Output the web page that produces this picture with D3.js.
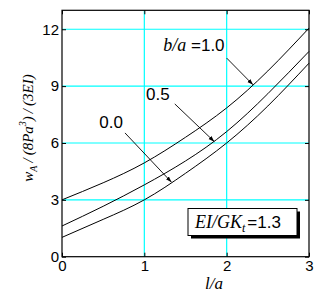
<!DOCTYPE html>
<html><head><meta charset="utf-8">
<script src="https://cdn.jsdelivr.net/npm/d3@7"></script>
<style>html,body{margin:0;padding:0;background:#fff;}</style>
</head><body>
<script>
// ---- data ----
const xs = [0, 0.5, 1, 1.5, 2, 2.5, 3];
const seriesLabels = ["1.0", "0.5", "0.0"];
const curve10 = [3.0, 3.9, 4.95, 6.3, 7.85, 9.8, 12.06];
const curve05 = [1.62, 2.66, 3.79, 5.05, 6.6, 8.6, 10.83];
const curve00 = [1.02, 1.97, 3.0, 4.4, 6.0, 7.95, 10.21];
const xTicks = [0, 1, 2, 3];
const yTicks = [0, 3, 6, 9, 12];
const xGrid = [1, 2];
const yGrid = [3, 6, 9, 12];
// leader lines [x0,y0,x1(tip),y1(tip)] in data units
const leaders = [[2.0, 10.48, 2.32, 9.07], [1.37, 8.06, 1.85, 6.07], [0.765, 6.53, 1.33, 3.93]];
const labelPos = [[1.23, 10.83], [1.02, 8.28], [0.453, 6.78]];

const W = 323, H = 297;
const svg = d3.select("body").append("svg").attr("width", W).attr("height", H)
  .style("display", "block").style("background", "#fff");

const x = d3.scaleLinear().domain([0, 3]).range([62, 309]);
const y = d3.scaleLinear().domain([0, 13]).range([256.7, 10.3]);

// grid
svg.append("g").selectAll("line").data(xGrid).join("line")
  .attr("x1", d => x(d)).attr("x2", d => x(d)).attr("y1", y(0)).attr("y2", y(13))
  .attr("stroke", "#00ffff").attr("stroke-width", 1.2);
svg.append("g").selectAll("line").data(yGrid).join("line")
  .attr("x1", x(0)).attr("x2", x(3)).attr("y1", d => y(d)).attr("y2", d => y(d))
  .attr("stroke", "#00ffff").attr("stroke-width", 1.2);

// axes (inward ticks on all sides)
const tickFont = "'Liberation Sans', Arial, sans-serif";
const gB = svg.append("g").attr("transform", `translate(0,${y(0)})`)
  .call(d3.axisBottom(x).tickValues(xTicks).tickFormat(d3.format("d")).tickSizeInner(-4).tickSizeOuter(0).tickPadding(4));
const gL = svg.append("g").attr("transform", `translate(${x(0)},0)`)
  .call(d3.axisLeft(y).tickValues(yTicks).tickFormat(d3.format("d")).tickSizeInner(-4).tickSizeOuter(0).tickPadding(3));
const gT = svg.append("g").attr("transform", `translate(0,${y(13)})`)
  .call(d3.axisTop(x).tickValues(xTicks).tickFormat("").tickSizeInner(-4).tickSizeOuter(0));
const gR = svg.append("g").attr("transform", `translate(${x(3)},0)`)
  .call(d3.axisRight(y).tickValues(yTicks).tickFormat("").tickSizeInner(-4).tickSizeOuter(0));
[gB, gL, gT, gR].forEach(g => {
  g.select(".domain").remove();
  g.selectAll("line").attr("stroke", "#000");
  g.selectAll("text").attr("font-family", tickFont).attr("font-size", 15).attr("fill", "#000");
});
gB.selectAll("text").attr("dy", "0.71em");

// frame
svg.append("rect").attr("x", x(0)).attr("y", y(13)).attr("width", x(3) - x(0)).attr("height", y(0) - y(13))
  .attr("fill", "none").attr("stroke", "#000").attr("stroke-width", 1.2);

// curves
const line = d3.line().x(d => x(d[0])).y(d => y(d[1])).curve(d3.curveNatural);
[curve10, curve05, curve00].forEach(vals => {
  svg.append("path").attr("d", line(xs.map((v, i) => [v, vals[i]])))
    .attr("fill", "none").attr("stroke", "#000").attr("stroke-width", 1);
});

// arrow marker
svg.append("defs").append("marker").attr("id", "arr").attr("viewBox", "0 0 10 10")
  .attr("refX", 10).attr("refY", 5).attr("markerWidth", 6).attr("markerHeight", 6)
  .attr("markerUnits", "userSpaceOnUse").attr("orient", "auto")
  .append("path").attr("d", "M0,1.5 L10,5 L0,8.5 Z").attr("fill", "#000");

leaders.forEach(l => {
  svg.append("line").attr("x1", x(l[0])).attr("y1", y(l[1])).attr("x2", x(l[2])).attr("y2", y(l[3]))
    .attr("stroke", "#000").attr("stroke-width", 0.9).attr("marker-end", "url(#arr)");
});

// series labels
const serif = "'Liberation Serif', 'Times New Roman', serif";
labelPos.forEach((p, i) => {
  const t = svg.append("text").attr("x", x(p[0])).attr("y", y(p[1]))
    .attr("font-family", tickFont).attr("font-size", 17).attr("fill", "#000");
  if (i === 0) {
    t.append("tspan").attr("font-family", serif).attr("font-style", "italic").attr("font-size", 18).text("b/a");
    t.append("tspan").text(" =" + seriesLabels[i]);
  } else {
    t.text(seriesLabels[i]);
  }
});

// legend box with shadow
const bx = 188, by = 208.5, bw = 109, bh = 27;
svg.append("rect").attr("x", bx + 3).attr("y", by + 3).attr("width", bw).attr("height", bh).attr("fill", "#000");
svg.append("rect").attr("x", bx).attr("y", by).attr("width", bw).attr("height", bh)
  .attr("fill", "#fff").attr("stroke", "#000").attr("stroke-width", 1);
const lt = svg.append("text").attr("x", 195).attr("y", 227.5).attr("fill", "#000")
  .attr("font-family", serif).attr("font-size", 18);
lt.append("tspan").attr("font-style", "italic").text("EI/GK");
lt.append("tspan").attr("font-style", "italic").attr("font-size", 12).attr("dy", 4).text("t");
lt.append("tspan").attr("dy", -4).attr("dx", 2).attr("font-family", tickFont).attr("font-size", 17).text("=1.3");

// x label
svg.append("text").attr("x", 214).attr("y", 289).attr("text-anchor", "middle")
  .attr("font-family", serif).attr("font-style", "italic").attr("font-size", 17).attr("fill", "#000")
  .text("l/a");

// y label
const yl = svg.append("text").attr("transform", "translate(33,128) rotate(-90)").attr("text-anchor", "middle")
  .attr("font-family", serif).attr("font-style", "italic").attr("font-size", 15).attr("fill", "#000");
yl.append("tspan").text("w");
yl.append("tspan").attr("font-size", 10).attr("dy", 4).text("A");
yl.append("tspan").attr("dy", -4).text("\u2009/\u2009(8Pa");
yl.append("tspan").attr("font-size", 10).attr("dy", -7).text("3");
yl.append("tspan").attr("dy", 7).text(")\u2009/\u2009(3EI)");
</script>
</body></html>
